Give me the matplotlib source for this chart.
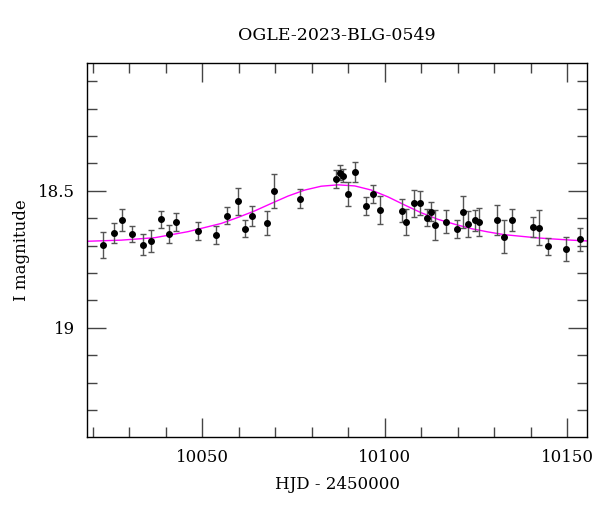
import numpy as np
import matplotlib
matplotlib.use("Agg")
import matplotlib.pyplot as plt
from matplotlib.ticker import MultipleLocator

# OGLE photometry (HJD - 2450000, I mag, error)
hjd = [10022.8, 10025.7, 10027.9, 10030.8, 10033.8, 10035.9, 10038.8, 10040.8,
       10042.9, 10048.8, 10053.7, 10056.8, 10059.7, 10061.7, 10063.7, 10067.7,
       10069.6, 10076.8, 10086.6, 10087.7, 10088.6, 10089.8, 10091.8, 10094.8,
       10096.8, 10098.6, 10104.8, 10105.9, 10107.9, 10109.8, 10111.6, 10112.7,
       10113.8, 10116.8, 10119.8, 10121.5, 10122.9, 10124.7, 10125.9, 10130.7,
       10132.7, 10134.8, 10140.5, 10142.4, 10144.6, 10149.7, 10153.6]
mag = [18.699, 18.655, 18.607, 18.659, 18.697, 18.683, 18.604, 18.658,
       18.614, 18.646, 18.661, 18.590, 18.538, 18.638, 18.593, 18.618,
       18.501, 18.528, 18.457, 18.433, 18.445, 18.512, 18.431, 18.556,
       18.510, 18.570, 18.572, 18.614, 18.545, 18.545, 18.598, 18.576,
       18.626, 18.613, 18.639, 18.576, 18.620, 18.607, 18.613, 18.607,
       18.667, 18.606, 18.632, 18.635, 18.703, 18.712, 18.676]
err = [0.048, 0.036, 0.041, 0.029, 0.038, 0.040, 0.032, 0.033,
       0.033, 0.032, 0.032, 0.030, 0.049, 0.032, 0.037, 0.043,
       0.063, 0.033, 0.032, 0.028, 0.024, 0.043, 0.038, 0.032,
       0.033, 0.050, 0.041, 0.049, 0.049, 0.044, 0.031, 0.035,
       0.055, 0.042, 0.034, 0.058, 0.048, 0.038, 0.052, 0.056,
       0.060, 0.039, 0.036, 0.064, 0.032, 0.043, 0.042]

# model curve
model_t = [10018.7, 10027.8, 10037.0, 10046.1, 10055.2, 10059.8, 10064.4,
           10068.9, 10073.5, 10078.1, 10082.6, 10087.2, 10091.8, 10096.3,
           10100.9, 10105.5, 10110.0, 10114.6, 10119.2, 10123.7, 10128.3,
           10132.8, 10142.0, 10151.1, 10155.6]
model_m = [18.684, 18.680, 18.671, 18.649, 18.619, 18.597, 18.573,
           18.546, 18.519, 18.497, 18.483, 18.478, 18.482, 18.497,
           18.522, 18.552, 18.580, 18.604, 18.622, 18.638, 18.650,
           18.660, 18.672, 18.680, 18.683]

plt.rcParams["font.family"] = ["DejaVu Serif"]
plt.rcParams["font.size"] = 12

fig = plt.figure(figsize=(6, 5.12), dpi=100)
ax = fig.add_axes([0.1455, 0.147, 0.8333, 0.7305])

ax.plot(model_t, model_m, color="#ff00ff", lw=1.0, zorder=2)
ax.errorbar(hjd, mag, yerr=err, fmt="o", color="black", ms=4,
            ecolor="#555555", elinewidth=1.0, capsize=2.5, capthick=1.0,
            zorder=3)

ax.set_xlim(10018.5, 10155.5)
ax.set_ylim(19.398, 18.032)

ax.xaxis.set_major_locator(MultipleLocator(50))
ax.xaxis.set_minor_locator(MultipleLocator(10))
ax.yaxis.set_major_locator(MultipleLocator(0.5))
ax.yaxis.set_minor_locator(MultipleLocator(0.1))
ax.yaxis.set_major_formatter(plt.FuncFormatter(lambda v, p: f"{v:g}"))

ax.tick_params(which="both", direction="in", top=True, right=True,
               color="#444444", width=1.0)
ax.tick_params(which="major", length=14, labelsize=12, pad=9)
ax.tick_params(which="minor", length=7)
for s in ax.spines.values():
    s.set_linewidth(1.0)

fig.text(0.562, 0.931, "OGLE-2023-BLG-0549", ha="center", va="center",
         fontsize=12.5)
fig.text(0.562, 0.053, "HJD - 2450000", ha="center", va="center", fontsize=12)
fig.text(0.035, 0.512, "I magnitude", ha="center", va="center",
         rotation=90, fontsize=12)

fig.savefig("out.png", dpi=100)
